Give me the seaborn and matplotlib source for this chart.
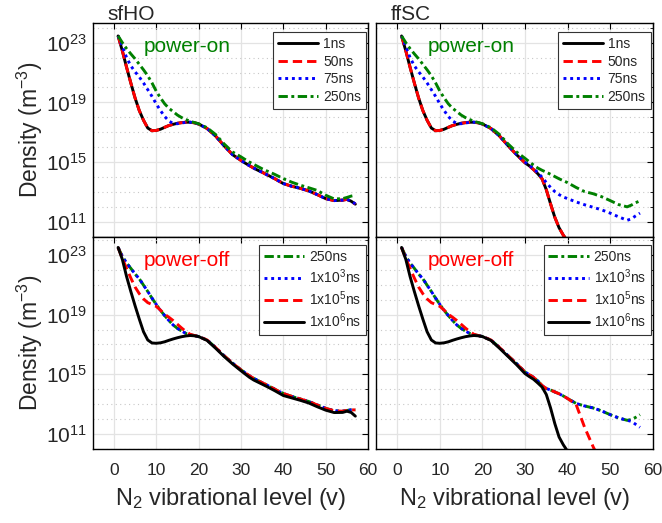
import matplotlib.pyplot as plt
import numpy as np
import seaborn as sns
from matplotlib.ticker import LogLocator, NullFormatter

sns.set_style("white")
plt.rcParams["font.family"] = ["Liberation Sans", "DejaVu Sans"]
plt.rcParams["mathtext.fontset"] = "custom"
plt.rcParams["mathtext.rm"] = "Liberation Sans"
plt.rcParams["mathtext.it"] = "Liberation Sans:italic"
plt.rcParams["axes.edgecolor"] = "black"

# vibrational levels and log10 of the density (m^-3)
v_levels = [1, 2, 3, 4, 5, 6, 7, 8, 9, 10, 11, 12, 13, 14, 15, 16, 17, 18, 19, 20,
            22, 24, 26, 28, 30, 31, 32, 33, 34, 35, 36, 37, 38, 39, 40,
            42, 44, 46, 48, 50, 52, 54, 55, 56, 57]

# sfHO, power-on
sfho_on_1ns = [23.45, 22.45, 21.35, 20.3, 19.3, 18.45, 17.8, 17.28, 17.1, 17.12,
               17.2, 17.33, 17.45, 17.53, 17.6, 17.64, 17.67, 17.67, 17.63, 17.55,
               17.25, 16.75, 16.1, 15.5, 15.11, 14.93, 14.76, 14.6, 14.45, 14.32,
               14.17, 14.03, 13.88, 13.72, 13.56, 13.38, 13.24, 13.07, 12.82, 12.55,
               12.42, 12.45, 12.5, 12.38, 12.18]
sfho_on_50ns = sfho_on_1ns
sfho_on_75ns = [23.45, 22.75, 22.0, 21.45, 21.05, 20.7, 20.3, 19.85, 19.4, 18.9,
                18.45, 18.05, 17.75, 17.58, 17.57, 17.62, 17.66, 17.67, 17.63, 17.55,
                17.25, 16.75, 16.1, 15.5, 15.11, 14.93, 14.76, 14.6, 14.45, 14.32,
                14.17, 14.03, 13.88, 13.72, 13.56, 13.38, 13.24, 13.07, 12.82, 12.55,
                12.42, 12.45, 12.5, 12.38, 12.2]
sfho_on_250ns = [23.45, 23.0, 22.6, 22.25, 21.92, 21.55, 21.18, 20.78, 20.3, 19.75,
                 19.3, 18.9, 18.6, 18.38, 18.15, 17.98, 17.85, 17.73, 17.65, 17.57,
                 17.3, 16.85, 16.22, 15.68, 15.35, 15.17, 15.0, 14.85, 14.7, 14.55,
                 14.42, 14.3, 14.17, 14.03, 13.89, 13.65, 13.45, 13.28, 13.1, 12.78,
                 12.53, 12.55, 12.63, 12.72, 12.78]

# ffSC, power-on
ffsc_on_1ns = [23.45, 22.45, 21.35, 20.3, 19.3, 18.45, 17.8, 17.28, 17.1, 17.12,
               17.2, 17.33, 17.45, 17.53, 17.6, 17.64, 17.67, 17.67, 17.63, 17.55,
               17.25, 16.75, 16.1, 15.5, 14.95, 14.75, 14.5, 14.22, 13.88, 13.15,
               12.2, 11.3, 10.6, 10.1, 9.7]
ffsc_on_50ns = ffsc_on_1ns
ffsc_on_75ns = [23.45, 22.75, 22.0, 21.45, 21.05, 20.7, 20.3, 19.85, 19.4, 18.9,
                18.45, 18.05, 17.75, 17.58, 17.57, 17.62, 17.66, 17.67, 17.63, 17.55,
                17.25, 16.75, 16.12, 15.52, 15.0, 14.78, 14.55, 14.3, 13.98, 13.63,
                13.3, 13.02, 12.82, 12.66, 12.55, 12.33, 12.14, 11.97, 11.8, 11.58,
                11.33, 11.1, 11.2, 11.4, 11.58]
ffsc_on_250ns = [23.45, 23.0, 22.6, 22.25, 21.92, 21.55, 21.18, 20.78, 20.3, 19.75,
                 19.3, 18.9, 18.6, 18.38, 18.15, 17.98, 17.85, 17.73, 17.65, 17.57,
                 17.3, 16.85, 16.22, 15.68, 15.25, 15.02, 14.8, 14.6, 14.45, 14.32,
                 14.18, 14.03, 13.88, 13.75, 13.62, 13.3, 13.02, 12.88, 12.68, 12.42,
                 12.15, 12.0, 12.12, 12.28, 12.4]

# sfHO, power-off
sfho_off_250ns = [23.5, 22.9, 22.45, 22.1, 21.72, 21.4, 20.97, 20.55, 20.1, 19.68,
                  19.28, 18.93, 18.6, 18.3, 18.08, 17.9, 17.74, 17.65, 17.6, 17.53,
                  17.3, 16.8, 16.25, 15.75, 15.3, 15.1, 14.9, 14.73, 14.58, 14.44,
                  14.3, 14.15, 14.0, 13.85, 13.72, 13.52, 13.35, 13.18, 12.95, 12.72,
                  12.56, 12.53, 12.58, 12.62, 12.62]
sfho_off_1e3ns = sfho_off_250ns
sfho_off_1e5ns = [23.5, 22.75, 22.1, 21.45, 20.85, 20.4, 20.05, 19.8, 19.68, 19.55,
                  19.3, 19.02, 18.82, 18.6, 18.35, 18.1, 17.87, 17.68, 17.6, 17.53,
                  17.3, 16.8, 16.25, 15.75, 15.3, 15.1, 14.9, 14.73, 14.58, 14.44,
                  14.3, 14.15, 14.0, 13.85, 13.72, 13.52, 13.35, 13.18, 12.95, 12.72,
                  12.56, 12.53, 12.58, 12.62, 12.62]
sfho_off_1e6ns = [23.5, 22.7, 21.55, 20.55, 19.6, 18.7, 17.85, 17.3, 17.1, 17.08,
                  17.11, 17.18, 17.28, 17.37, 17.45, 17.52, 17.57, 17.6, 17.58, 17.53,
                  17.27, 16.75, 16.2, 15.7, 15.24, 15.02, 14.8, 14.62, 14.48, 14.34,
                  14.2, 14.05, 13.9, 13.74, 13.58, 13.42, 13.26, 13.08, 12.83, 12.6,
                  12.44, 12.45, 12.53, 12.45, 12.2]

# ffSC, power-off
ffsc_off_250ns = [23.5, 22.9, 22.45, 22.1, 21.72, 21.4, 20.97, 20.55, 20.1, 19.68,
                  19.28, 18.93, 18.6, 18.3, 18.08, 17.9, 17.74, 17.65, 17.6, 17.53,
                  17.3, 16.8, 16.25, 15.72, 15.15, 14.98, 14.8, 14.55, 14.25, 14.05,
                  13.95, 13.82, 13.7, 13.55, 13.38, 13.05, 12.88, 12.75, 12.55, 12.3,
                  12.08, 11.92, 11.98, 12.12, 12.3]
ffsc_off_1e3ns = [23.5, 22.9, 22.45, 22.1, 21.72, 21.4, 20.97, 20.55, 20.1, 19.68,
                  19.28, 18.93, 18.6, 18.3, 18.08, 17.9, 17.74, 17.65, 17.6, 17.53,
                  17.3, 16.8, 16.25, 15.72, 15.15, 14.98, 14.8, 14.55, 14.25, 14.05,
                  13.95, 13.82, 13.7, 13.55, 13.38, 13.05, 12.88, 12.75, 12.55, 12.3,
                  12.08, 11.92, 11.85, 11.65, 11.45]
ffsc_off_1e5ns = [23.5, 22.75, 22.1, 21.45, 20.85, 20.4, 20.05, 19.8, 19.68, 19.55,
                  19.3, 19.02, 18.82, 18.6, 18.35, 18.1, 17.87, 17.68, 17.6, 17.53,
                  17.3, 16.8, 16.25, 15.72, 15.15, 14.98, 14.8, 14.55, 14.25, 14.05,
                  13.95, 13.82, 13.7, 13.55, 13.38, 12.98, 11.45, 10.15, 9.0]
ffsc_off_1e6ns = [23.5, 22.7, 21.55, 20.55, 19.6, 18.7, 17.85, 17.3, 17.1, 17.08,
                  17.11, 17.18, 17.28, 17.37, 17.45, 17.52, 17.57, 17.6, 17.58, 17.53,
                  17.27, 16.75, 16.2, 15.65, 15.05, 14.85, 14.67, 14.42, 14.15, 13.65,
                  12.75, 11.7, 10.8, 10.28, 9.85]

labels_on = ["1ns", "50ns", "75ns", "250ns"]
labels_off = ["250ns", "1x10$^3$ns", "1x10$^5$ns", "1x10$^6$ns"]

BLACK = "black"
RED = "#ff0000"
BLUE = "#0000ff"
GREEN = "#008000"
SOLID = "-"
DASHED = (0, (3.2, 1.7))
DOTTED = (0, (1, 1.3))
DASHDOT = (0, (3.2, 1.2, 1, 1.2))

panels = [
    # rect, curves, labels, state text, text colour, title, ytop
    ([0.140, 0.5474, 0.416, 0.409],
     [(sfho_on_1ns, BLACK, SOLID), (sfho_on_50ns, RED, DASHED),
      (sfho_on_75ns, BLUE, DOTTED), (sfho_on_250ns, GREEN, DASHDOT)],
     labels_on, "power-on", GREEN, "sfHO", 24.33),
    ([0.568, 0.5474, 0.418, 0.409],
     [(ffsc_on_1ns, BLACK, SOLID), (ffsc_on_50ns, RED, DASHED),
      (ffsc_on_75ns, BLUE, DOTTED), (ffsc_on_250ns, GREEN, DASHDOT)],
     labels_on, "power-on", GREEN, "ffSC", 24.33),
    ([0.140, 0.1415, 0.416, 0.406],
     [(sfho_off_250ns, GREEN, DASHDOT), (sfho_off_1e3ns, BLUE, DOTTED),
      (sfho_off_1e5ns, RED, DASHED), (sfho_off_1e6ns, BLACK, SOLID)],
     labels_off, "power-off", RED, None, 24.22),
    ([0.568, 0.1415, 0.418, 0.406],
     [(ffsc_off_250ns, GREEN, DASHDOT), (ffsc_off_1e3ns, BLUE, DOTTED),
      (ffsc_off_1e5ns, RED, DASHED), (ffsc_off_1e6ns, BLACK, SOLID)],
     labels_off, "power-off", RED, None, 24.22),
]

fig = plt.figure(figsize=(6.62, 5.23), dpi=100)

for i, (rect, curves, labels, state, state_color, title, ytop) in enumerate(panels):
    ax = fig.add_axes(rect)
    ax.set_yscale("log")
    for (vals, color, ls), lab in zip(curves, labels):
        n = len(vals)
        sns.lineplot(x=v_levels[:n], y=10 ** np.array(vals), ax=ax, color=color,
                     linestyle=ls, linewidth=2.1, label=lab, estimator=None)
    ax.set_xlim(-5, 60)
    ax.set_ylim(1e10, 10 ** ytop)
    ax.set_xticks([0, 10, 20, 30, 40, 50, 60])
    ax.set_yticks([1e11, 1e15, 1e19, 1e23])
    ax.yaxis.set_minor_locator(LogLocator(base=10, subs=[1.0], numticks=30))
    ax.yaxis.set_minor_formatter(NullFormatter())
    ax.grid(which="major", color="#e3e3e3", linewidth=0.9, linestyle="-")
    ax.grid(which="minor", axis="y", color="#c8c8c8", linewidth=0.8, linestyle=(0, (1, 3)))
    ax.set_axisbelow(True)
    ax.tick_params(which="both", direction="in", top=True, right=True, color="black")
    ax.tick_params(which="major", length=4, width=0.8)
    ax.tick_params(which="minor", length=2.5, width=0.6)
    ax.tick_params(axis="y", labelsize=15, pad=4)
    ax.tick_params(axis="x", labelsize=12.5, pad=10)
    for sp in ax.spines.values():
        sp.set_linewidth(1.0)
        sp.set_color("black")

    top = i < 2
    left = i % 2 == 0
    if top:
        ax.tick_params(axis="x", labelbottom=False)
        ax.set_xlabel("")
    else:
        ax.set_xlabel("N$_2$ vibrational level (v)", fontsize=17, labelpad=6)
    if left:
        ax.set_ylabel("Density (m$^{-3}$)", fontsize=16.5, labelpad=1)
    else:
        ax.tick_params(axis="y", labelleft=False)
        ax.set_ylabel("")

    ax.text(0.187, 0.888, state, transform=ax.transAxes, color=state_color,
            fontsize=15, ha="left", va="center")
    if title:
        ax.text(0.052, 1.013, title, transform=ax.transAxes, fontsize=15,
                ha="left", va="baseline")

    anchor_y = 0.955 if top else 0.962
    leg = ax.legend(loc="upper right", bbox_to_anchor=(0.992, anchor_y),
                    borderaxespad=0, fontsize=10, handlelength=2.9,
                    handletextpad=0.35, labelspacing=0.25, borderpad=0.35,
                    frameon=True, fancybox=False, framealpha=1)
    leg.get_frame().set_edgecolor("#333333")
    leg.get_frame().set_linewidth(0.8)

plt.savefig("out.png", dpi=100)
